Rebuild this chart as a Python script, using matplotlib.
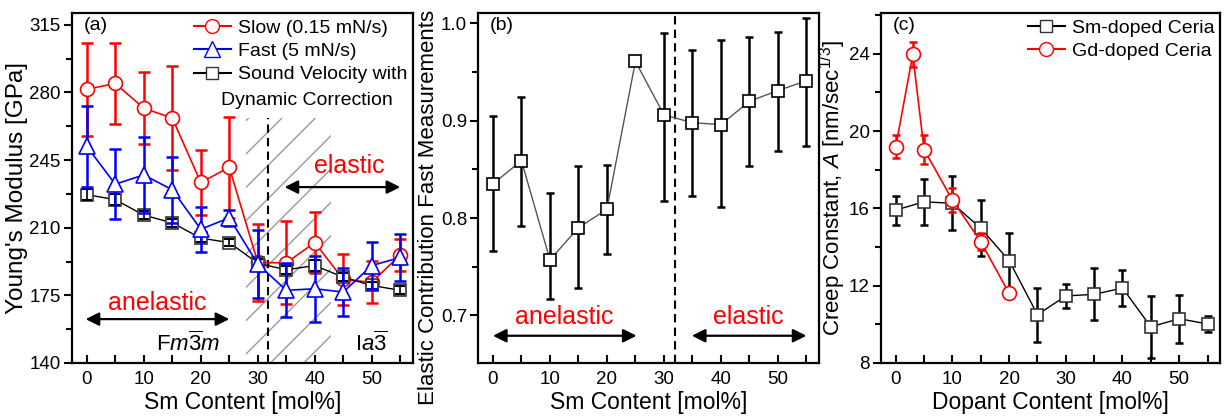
import matplotlib
matplotlib.use("Agg")
import matplotlib.pyplot as plt
from matplotlib.lines import Line2D
from matplotlib.patches import Rectangle
from matplotlib.ticker import MultipleLocator

plt.rcParams['font.family'] = ['Liberation Sans', 'DejaVu Sans']
plt.rcParams['mathtext.fontset'] = 'custom'
plt.rcParams['mathtext.rm'] = 'Liberation Sans'
plt.rcParams['mathtext.it'] = 'Liberation Sans:italic'
plt.rcParams['hatch.linewidth'] = 1.0

# ---- data ----
sm_content = [0, 5, 10, 15, 20, 25, 30, 35, 40, 45, 50, 55]

# (a) Young's modulus [GPa]
slow = [281.6, 284.6, 271.8, 266.7, 233.4, 241.2, 192.0, 191.8, 202.3, 183.2, 181.8, 195.9]
slow_err = [24, 21, 18.5, 27, 17, 26, 20, 21.5, 16, 13, 11, 8.5]
fast = [252.0, 232.5, 237.3, 229.6, 209.2, 215.1, 191.2, 177.6, 178.4, 176.7, 190.4, 194.6]
fast_err = [21, 18, 19.7, 17, 11.7, 4, 17.5, 14, 17, 12.5, 12.3, 12]
sound = [227.1, 224.5, 216.5, 212.5, 204.6, 202.3, 191.6, 188.2, 190.4, 184.4, 180.1, 177.6]
sound_err = [3, 3, 2, 2, 2, 2, 2, 2, 3, 2, 2, 2]

# (b) elastic contribution of fast measurements
elastic = [0.835, 0.859, 0.757, 0.790, 0.809, 0.961, 0.906, 0.898, 0.896, 0.920, 0.931, 0.941]
elastic_lo = [0.069, 0.067, 0.040, 0.062, 0.046, 0.0, 0.088, 0.075, 0.085, 0.067, 0.062, 0.067]
elastic_hi = [0.070, 0.065, 0.069, 0.063, 0.046, 0.0, 0.084, 0.075, 0.087, 0.066, 0.060, 0.065]

# (c) creep constant A [nm/sec^1/3]
sm_creep = [15.91, 16.34, 16.26, 14.97, 13.30, 10.50, 11.47, 11.55, 11.88, 9.87, 10.29, 10.02]
sm_creep_err = [0.75, 1.2, 1.4, 1.45, 1.45, 1.4, 0.6, 1.35, 0.95, 1.6, 1.25, 0.43]
gd_content = [0, 3, 5, 10, 15, 20]
gd_creep = [19.18, 23.96, 19.04, 16.43, 14.28, 11.60]
gd_creep_err = [0.6, 0.65, 0.75, 0.63, 0.43, 0.15]

# phase regions
boundary = 31.8
two_phase = (27.9, 42.9)

FS = 13.5      # tick labels
LFS = 16.5     # axis labels
GFS = 14       # legends
AFS = 18       # elastic / anelastic
RED = '#ff0000'
BLUE = '#0000ff'

fig = plt.figure(figsize=(12.26, 4.18), dpi=100)
ax_a = fig.add_axes([0.0587, 0.1316, 0.278, 0.837])
ax_b = fig.add_axes([0.390, 0.1316, 0.278, 0.837])
ax_c = fig.add_axes([0.7186, 0.1316, 0.2765, 0.837])


def style_axes(ax):
    for s in ax.spines.values():
        s.set_linewidth(1.6)
    ax.xaxis.set_major_locator(MultipleLocator(10))
    ax.xaxis.set_minor_locator(MultipleLocator(5))
    ax.tick_params(axis='x', which='both', direction='in', length=6, width=1.5,
                   labelsize=FS, top=False, pad=6)
    ax.tick_params(axis='y', which='major', direction='out', length=6, width=1.5,
                   labelsize=FS, pad=2)
    ax.tick_params(axis='y', which='minor', direction='out', length=4, width=1.5)
    ax.set_xlim(-2.6, 57.2)


def arrow(ax, x0, x1, y):
    ax.annotate('', xy=(x1, y), xytext=(x0, y),
                arrowprops=dict(arrowstyle='<|-|>', color='black', lw=1.6,
                                mutation_scale=20, shrinkA=0, shrinkB=0))


# ---------- (a) ----------
ax = ax_a
style_axes(ax)
ax.set_ylim(140, 321)
ax.yaxis.set_major_locator(MultipleLocator(35))
ax.yaxis.set_minor_locator(MultipleLocator(17.5))
ax.add_patch(Rectangle((two_phase[0], 140), two_phase[1] - two_phase[0], 127,
                       facecolor='none', edgecolor='#9a9a9a', hatch='/', lw=0, zorder=1))
ax.plot([boundary, boundary], [140, 267], ls=(0, (4, 2.5)), color='k', lw=1.5, zorder=2)

ax.errorbar(sm_content, slow, yerr=slow_err, fmt='none', ecolor=RED, elinewidth=1.8,
            capsize=4, capthick=1.8, zorder=3)
ax.plot(sm_content, slow, '-o', color=RED, lw=1.2, ms=10, mfc='white', mec=RED, mew=1.2, zorder=3.5)

ax.plot(sm_content, sound, '-s', color='k', lw=1.0, ms=8.5, mfc='white', mec='#333333',
        mew=1.2, zorder=4)
ax.errorbar(sm_content, sound, yerr=sound_err, fmt='none', ecolor='k', elinewidth=1.2,
            capsize=3.5, capthick=1.5, zorder=4.5)

ax.errorbar(sm_content, fast, yerr=fast_err, fmt='none', ecolor=BLUE, elinewidth=1.8,
            capsize=4, capthick=1.8, zorder=5)
ax.plot(sm_content, fast, '-^', color=BLUE, lw=1.2, ms=11, mfc='white', mec=BLUE, mew=1.2, zorder=5.5)

handles = [
    Line2D([], [], color=RED, marker='o', ms=10, mfc='white', lw=1.5),
    Line2D([], [], color=BLUE, marker='^', ms=11, mfc='white', lw=1.5),
    Line2D([], [], color='k', marker='s', ms=8.5, mfc='white', mec='#333333', lw=1.5),
]
ax.legend(handles, ['Slow (0.15 mN/s)', 'Fast (5 mN/s)', 'Sound Velocity with'],
          loc='upper right', frameon=False, fontsize=GFS, handlelength=1.9,
          handletextpad=0.35, labelspacing=0.3, borderaxespad=0.05, borderpad=0.25)
ax.text(0.689, 0.751, 'Dynamic Correction', transform=ax.transAxes, fontsize=GFS,
        ha='center', va='center')
ax.text(0.035, 0.965, '(a)', transform=ax.transAxes, fontsize=FS + 0.5, ha='left', va='center')

ax.text(46, 242, 'elastic', color=RED, fontsize=AFS, ha='center', va='center')
arrow(ax, 34.7, 55, 231)
ax.text(12.3, 171, 'anelastic', color=RED, fontsize=AFS, ha='center', va='center')
arrow(ax, -0.2, 25, 162.7)
ax.text(17.7, 150, r'F$m\overline{3}m$', fontsize=16, ha='center', va='center')
ax.text(50, 150, r'I$a\overline{3}$', fontsize=16, ha='center', va='center')

ax.set_xlabel('Sm Content [mol%]', fontsize=LFS, labelpad=2)
ax.set_ylabel("Young's Modulus [GPa]", fontsize=17.5, labelpad=1)

# ---------- (b) ----------
ax = ax_b
style_axes(ax)
ax.set_ylim(0.651, 1.0106)
ax.yaxis.set_major_locator(MultipleLocator(0.1))
ax.yaxis.set_minor_locator(MultipleLocator(0.05))
ax.yaxis.set_major_formatter(plt.FormatStrFormatter('%.1f'))
ax.axvline(32, ls=(0, (4, 2.5)), color='k', lw=1.5, zorder=1)
ax.errorbar(sm_content, elastic, yerr=[elastic_lo, elastic_hi], fmt='none', ecolor='k',
            elinewidth=1.8, capsize=3, capthick=1.8, zorder=2)
ax.plot(sm_content, elastic, '-s', color='#555555', lw=1.0, ms=9, mfc='white', mec='k',
        mew=1.2, zorder=3)
ax.text(0.035, 0.965, '(b)', transform=ax.transAxes, fontsize=FS + 0.5, ha='left', va='center')
ax.text(12.5, 0.698, 'anelastic', color=RED, fontsize=AFS, ha='center', va='center')
arrow(ax, 0, 25.2, 0.679)
ax.text(44.8, 0.698, 'elastic', color=RED, fontsize=AFS, ha='center', va='center')
arrow(ax, 34.9, 55, 0.679)
ax.set_xlabel('Sm Content [mol%]', fontsize=LFS, labelpad=2)
ax.set_ylabel('Elastic Contribution Fast Measurements', fontsize=16, labelpad=1, y=0.445)

# ---------- (c) ----------
ax = ax_c
style_axes(ax)
ax.set_ylim(8, 26.1)
ax.yaxis.set_major_locator(MultipleLocator(4))
ax.yaxis.set_minor_locator(MultipleLocator(2))
ax.errorbar(sm_content, sm_creep, yerr=sm_creep_err, fmt='none', ecolor='k', elinewidth=1.8,
            capsize=3, capthick=1.8, zorder=2)
ax.plot(sm_content, sm_creep, '-s', color='k', lw=1.0, ms=9, mfc='white', mec='#333333',
        mew=1.2, zorder=3)
ax.errorbar(gd_content, gd_creep, yerr=gd_creep_err, fmt='none', ecolor=RED, elinewidth=1.8,
            capsize=3, capthick=1.8, zorder=4)
ax.plot(gd_content, gd_creep, '-o', color=RED, lw=1.2, ms=10, mfc='white', mec=RED,
        mew=1.2, zorder=5)
handles = [
    Line2D([], [], color='k', marker='s', ms=9, mfc='white', mec='#333333', lw=1.5),
    Line2D([], [], color=RED, marker='o', ms=10, mfc='white', lw=1.5),
]
ax.legend(handles, ['Sm-doped Ceria', 'Gd-doped Ceria'], loc='upper right', frameon=False,
          fontsize=GFS, handlelength=1.9, handletextpad=0.35, labelspacing=0.3,
          borderaxespad=0.05, borderpad=0.25)
ax.text(0.035, 0.965, '(c)', transform=ax.transAxes, fontsize=FS + 0.5, ha='left', va='center')
ax.set_xlabel('Dopant Content [mol%]', fontsize=LFS, labelpad=2)
ax.set_ylabel(r'Creep Constant, $A$ [nm/sec$^{1/3}$]', fontsize=16, labelpad=1)

fig.savefig('out.png', dpi=100)
